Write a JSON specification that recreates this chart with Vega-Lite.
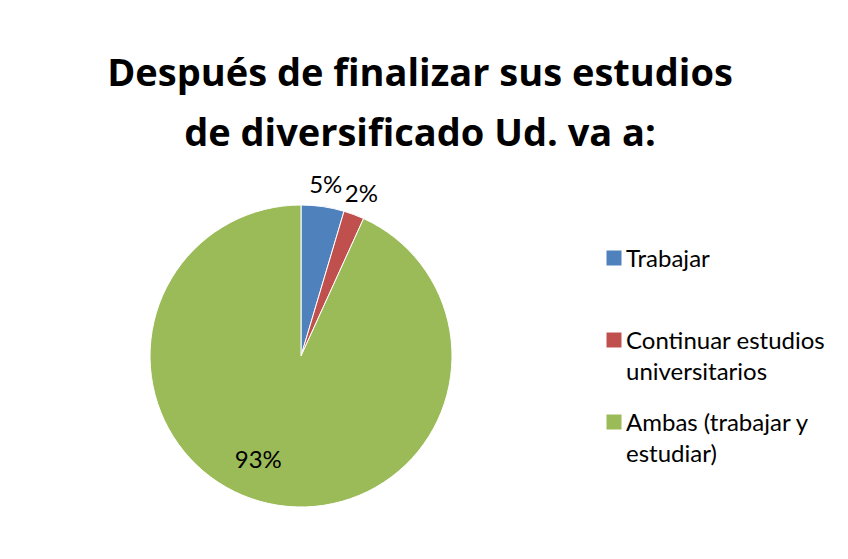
{
  "$schema": "https://vega.github.io/schema/vega-lite/v6.json",
  "width": 302,
  "height": 302,
  "autosize": {"type": "none"},
  "padding": {"left": 150, "top": 205, "right": 396, "bottom": 52},
  "background": "white",
  "config": {
    "style": {"guide-label": {"lineHeight": 31, "dy": 9}}
  },
  "title": {
    "text": ["Después de finalizar sus estudios", "de diversificado Ud. va a:"],
    "font": "Open Sans",
    "fontSize": 38,
    "fontWeight": "bold",
    "lineHeight": 60,
    "color": "black",
    "anchor": "middle",
    "dx": 119,
    "offset": 20
  },
  "data": {
    "values": [
      {"categoria": "Trabajar", "porcentaje": 0.046, "orden": 1},
      {"categoria": "Continuar estudios universitarios", "porcentaje": 0.022, "orden": 2},
      {"categoria": "Ambas (trabajar y estudiar)", "porcentaje": 0.932, "orden": 3}
    ]
  },
  "encoding": {
    "theta": {"field": "porcentaje", "type": "quantitative", "stack": true},
    "order": {"field": "orden", "type": "quantitative"}
  },
  "layer": [
    {
      "mark": {"type": "arc", "outerRadius": 151, "stroke": "white", "strokeWidth": 1},
      "encoding": {
        "color": {
          "field": "categoria",
          "type": "nominal",
          "scale": {
            "domain": ["Trabajar", "Continuar estudios universitarios", "Ambas (trabajar y estudiar)"],
            "range": ["#4F81BD", "#C0504D", "#9BBB59"]
          },
          "legend": {
            "title": null,
            "orient": "right",
            "offset": 109,
            "padding": 41,
            "symbolType": "square",
            "symbolSize": 225,
            "symbolStrokeWidth": 0,
            "labelFont": "Lato",
            "labelFontSize": 24,
            "labelColor": "black",
            "labelOffset": 0,
            "labelLimit": 400,
            "rowPadding": 25,
            "labelBaseline": "alphabetic",
            "labelExpr": "datum.label == 'Trabajar' ? ['Trabajar', ''] : datum.label == 'Continuar estudios universitarios' ? ['Continuar estudios', 'universitarios'] : ['Ambas (trabajar y', 'estudiar)']"
          }
        }
      }
    },
    {
      "mark": {"type": "text", "radius": 172, "font": "Lato", "fontSize": 24, "color": "black"},
      "encoding": {
        "text": {
          "condition": {"test": "datum.porcentaje < 0.5", "field": "porcentaje", "type": "quantitative", "format": ".0%"},
          "value": ""
        }
      }
    },
    {
      "mark": {"type": "text", "radius": 107, "dx": -20, "font": "Lato", "fontSize": 24, "color": "black"},
      "encoding": {
        "text": {
          "condition": {"test": "datum.porcentaje >= 0.5", "field": "porcentaje", "type": "quantitative", "format": ".0%"},
          "value": ""
        }
      }
    }
  ]
}
